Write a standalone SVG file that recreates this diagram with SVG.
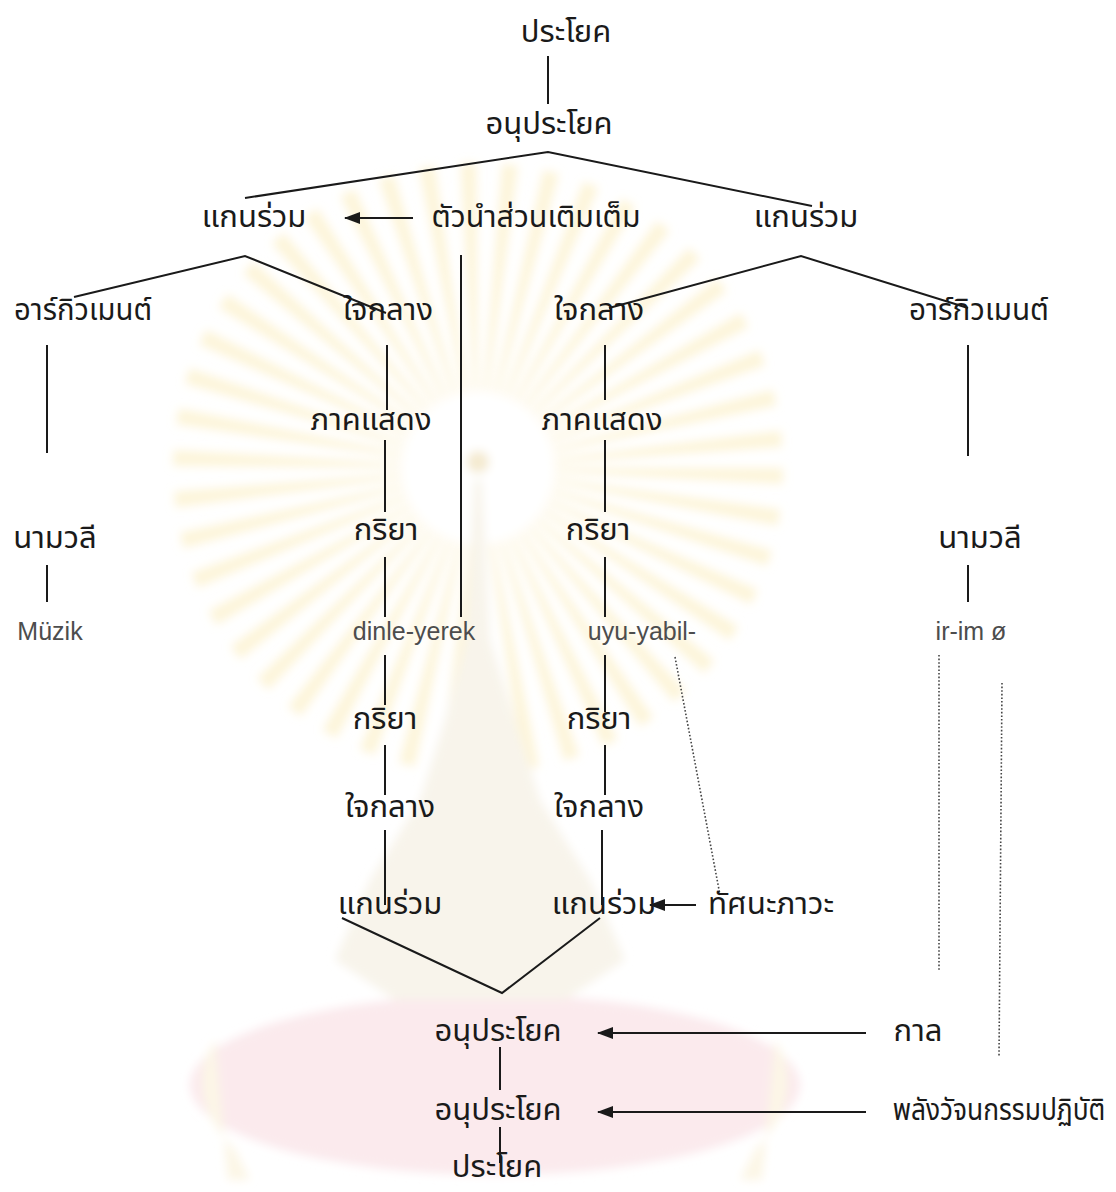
<svg xmlns="http://www.w3.org/2000/svg" width="1116" height="1192" viewBox="0 0 1116 1192">
<defs>
<style>
.th{font-family:'Noto Sans Thai','Noto Sans Thai Looped','Noto Sans','DejaVu Sans',sans-serif;font-size:31px;fill:#1a1a1a;text-anchor:middle}
.la{font-family:'Liberation Sans',Arial,sans-serif;font-size:25px;fill:#4d4d4d;text-anchor:middle}
.ln{stroke:#1a1a1a;stroke-width:2;fill:none}
.dt{stroke:#444;stroke-width:1.6;fill:none;stroke-dasharray:1.6 2}
</style>
<marker id="ah" viewBox="0 0 16 12" refX="15" refY="6" markerWidth="16" markerHeight="12" markerUnits="userSpaceOnUse" orient="auto">
<path d="M0,0 L16,6 L0,12 Z" fill="#1a1a1a"/>
</marker>
<filter id="soft" x="-20%" y="-20%" width="140%" height="140%">
<feGaussianBlur stdDeviation="5"/>
</filter>
</defs>
<rect width="1116" height="1192" fill="#ffffff"/>
<g id="watermark" filter="url(#soft)">
<circle cx="478" cy="468" r="190" fill="none" stroke="#fcefc6" stroke-width="230" stroke-dasharray="10 16" opacity="0.65"/>
<circle cx="478" cy="468" r="76" fill="#ffffff"/>
<ellipse cx="495" cy="1085" rx="305" ry="90" fill="#fbeaed"/>
<path d="M474,480 L482,480 L490,640 L515,720 L540,800 L590,880 L625,960 L565,1000 L395,1000 L335,960 L370,880 L420,800 L445,720 L466,640 Z" fill="#f8f4eb"/>
<circle cx="478" cy="462" r="11" fill="#f4ead0"/>
<path d="M215,1040 C190,1080 205,1120 235,1150 L250,1180 L228,1180 Z" fill="#fcf6e6"/>
<path d="M775,1040 C800,1080 785,1120 755,1150 L740,1180 L762,1180 Z" fill="#fcf6e6"/>
</g>
<g id="connectors">
<line class="ln" x1="548" y1="56" x2="548" y2="104"/>
<polyline class="ln" points="245,198 548,152 812,206"/>
<line class="ln" x1="413" y1="218" x2="345" y2="218" marker-end="url(#ah)"/>
<polyline class="ln" points="74,297 245,256 386,313"/>
<polyline class="ln" points="609,308 801,256 968,308"/>
<line class="ln" x1="47" y1="345" x2="47" y2="453"/>
<line class="ln" x1="387" y1="345" x2="387" y2="410"/>
<line class="ln" x1="461" y1="255" x2="461" y2="617"/>
<line class="ln" x1="605" y1="345" x2="605" y2="400"/>
<line class="ln" x1="968" y1="345" x2="968" y2="456"/>
<line class="ln" x1="385" y1="440" x2="385" y2="512"/>
<line class="ln" x1="605" y1="440" x2="605" y2="512"/>
<line class="ln" x1="47" y1="565" x2="47" y2="602"/>
<line class="ln" x1="968" y1="565" x2="968" y2="602"/>
<line class="ln" x1="385" y1="557" x2="385" y2="617"/>
<line class="ln" x1="605" y1="557" x2="605" y2="617"/>
<line class="ln" x1="385" y1="655" x2="385" y2="705"/>
<line class="ln" x1="605" y1="655" x2="605" y2="712"/>
<line class="ln" x1="385" y1="745" x2="385" y2="795"/>
<line class="ln" x1="605" y1="745" x2="605" y2="795"/>
<line class="ln" x1="385" y1="830" x2="385" y2="905"/>
<line class="ln" x1="602" y1="830" x2="602" y2="905"/>
<polyline class="ln" points="342,918 502,993 600,918"/>
<line class="ln" x1="696" y1="905" x2="650" y2="905" marker-end="url(#ah)"/>
<line class="ln" x1="866" y1="1033" x2="598" y2="1033" marker-end="url(#ah)"/>
<line class="ln" x1="500" y1="1047" x2="500" y2="1090"/>
<line class="ln" x1="866" y1="1112" x2="598" y2="1112" marker-end="url(#ah)"/>
<line class="ln" x1="500" y1="1127" x2="500" y2="1163"/>
<line class="dt" x1="675" y1="657" x2="720" y2="895"/>
<line class="dt" x1="939" y1="655" x2="939" y2="970"/>
<line class="dt" x1="1002" y1="683" x2="999" y2="1057"/>
</g>
<g id="n-prayok-top"><text class="th" x="566" y="42">ประโยค</text></g>
<g id="n-anuprayok-top"><text class="th" x="549" y="134">อนุประโยค</text></g>
<g id="n-kaenruam-l"><text class="th" x="254" y="227">แกนร่วม</text></g>
<g id="n-tuanam"><text class="th" x="536" y="227" textLength="209" lengthAdjust="spacingAndGlyphs">ตัวนำส่วนเติมเต็ม</text></g>
<g id="n-kaenruam-r"><text class="th" x="806" y="227">แกนร่วม</text></g>
<g id="n-arg-l"><text class="th" x="83" y="320" textLength="138" lengthAdjust="spacingAndGlyphs">อาร์กิวเมนต์</text></g>
<g id="n-jaiklang-l"><text class="th" x="388" y="320">ใจกลาง</text></g>
<g id="n-jaiklang-r"><text class="th" x="599" y="320">ใจกลาง</text></g>
<g id="n-arg-r"><text class="th" x="979" y="320" textLength="140" lengthAdjust="spacingAndGlyphs">อาร์กิวเมนต์</text></g>
<g id="n-pak-l"><text class="th" x="371" y="430">ภาคแสดง</text></g>
<g id="n-pak-r"><text class="th" x="602" y="430">ภาคแสดง</text></g>
<g id="n-nam-l"><text class="th" x="55" y="548">นามวลี</text></g>
<g id="n-kriya-l1"><text class="th" x="386" y="540">กริยา</text></g>
<g id="n-kriya-r1"><text class="th" x="598" y="540">กริยา</text></g>
<g id="n-nam-r"><text class="th" x="980" y="548">นามวลี</text></g>
<g id="n-muzik"><text class="la" x="50" y="640">Müzik</text></g>
<g id="n-dinle"><text class="la" x="414" y="640">dinle-yerek</text></g>
<g id="n-uyu"><text class="la" x="642" y="640">uyu-yabil-</text></g>
<g id="n-irim"><text class="la" x="971" y="640">ir-im ø</text></g>
<g id="n-kriya-l2"><text class="th" x="385" y="729">กริยา</text></g>
<g id="n-kriya-r2"><text class="th" x="599" y="729">กริยา</text></g>
<g id="n-jaiklang-l2"><text class="th" x="390" y="817">ใจกลาง</text></g>
<g id="n-jaiklang-r2"><text class="th" x="599" y="817">ใจกลาง</text></g>
<g id="n-kaenruam-l2"><text class="th" x="390" y="914">แกนร่วม</text></g>
<g id="n-kaenruam-r2"><text class="th" x="604" y="914">แกนร่วม</text></g>
<g id="n-tasana"><text class="th" x="771" y="914" textLength="126" lengthAdjust="spacingAndGlyphs">ทัศนะภาวะ</text></g>
<g id="n-anuprayok-2"><text class="th" x="498" y="1041">อนุประโยค</text></g>
<g id="n-kan"><text class="th" x="918" y="1041">กาล</text></g>
<g id="n-anuprayok-3"><text class="th" x="498" y="1120">อนุประโยค</text></g>
<g id="n-palang" transform="translate(999,1120) scale(0.85,1)"><text class="th" x="0" y="0">พลังวัจนกรรมปฏิบัติ</text></g>
<g id="n-prayok-bottom"><text class="th" x="497" y="1177">ประโยค</text></g>
</svg>
